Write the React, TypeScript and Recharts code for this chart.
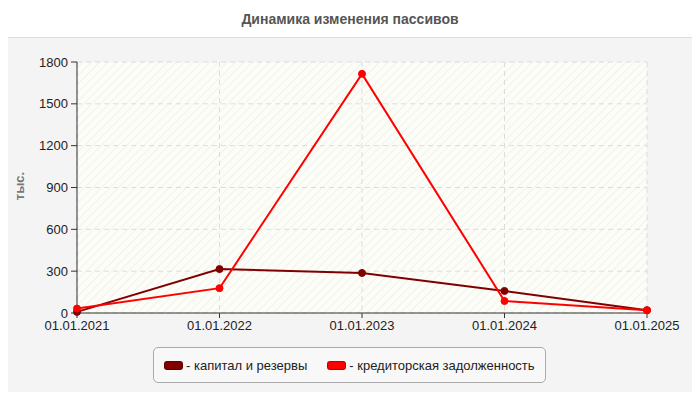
import React from "react";
import { LineChart, Line, XAxis, YAxis, CartesianGrid } from "recharts";

const dates = ["01.01.2021", "01.01.2022", "01.01.2023", "01.01.2024", "01.01.2025"];
const capital = [8, 315, 287, 158, 20];
const payables = [32, 178, 1715, 86, 19];
const yTicks = [0, 300, 600, 900, 1200, 1500, 1800];

const data = dates.map((d, i) => ({ date: d, capital: capital[i], payables: payables[i] }));

const FONT = '"Liberation Sans", Arial, sans-serif';

const LegendItem = ({ color, label }: { color: string; label: string }) => (
  <div style={{ display: "flex", alignItems: "center", marginRight: 20, flexShrink: 0, whiteSpace: "nowrap" }}>
    <div
      style={{
        width: 17,
        height: 7,
        background: color,
        borderRadius: 3,
        border: "1px solid rgba(0,0,0,0.25)",
        marginRight: 3,
      }}
    />
    <span>- {label}</span>
  </div>
);

export default function App() {
  return (
    <div style={{ position: "relative", width: 700, height: 400, background: "#fff", fontFamily: FONT, margin: -8 }}>
      <div
        style={{
          position: "absolute",
          top: 11,
          left: 0,
          width: 700,
          textAlign: "center",
          fontSize: 14,
          fontWeight: "bold",
          color: "#555",
        }}
      >
        Динамика изменения пассивов
      </div>
      <div
        style={{
          position: "absolute",
          top: 37,
          left: 0,
          width: 697,
          height: 357,
          background: "#f4f4f4",
          border: "1px solid #dedede",
          borderRadius: 8,
        }}
      />
      <div style={{ position: "absolute", top: 0, left: 0 }}>
        <LineChart width={700} height={400} data={data} margin={{ top: 62, right: 53, left: 0, bottom: 57 }}>
          <defs>
            <pattern id="hatch" width="6" height="6" patternUnits="userSpaceOnUse" patternTransform="rotate(45)">
              <rect width="6" height="6" fill="#fdfdf8" />
              <line x1="0" y1="0" x2="0" y2="6" stroke="#ededea" strokeWidth="1.5" />
            </pattern>
          </defs>
          <CartesianGrid stroke="#dcdcdc" strokeDasharray="5 4" fill="url(#hatch)" fillOpacity={1} />
          <XAxis
            dataKey="date"
            height={30}
            tick={{ fill: "#222", fontSize: 13, fontFamily: FONT }}
            tickSize={5}
            tickMargin={3}
            axisLine={{ stroke: "#333" }}
            tickLine={{ stroke: "#333" }}
            interval={0}
          />
          <YAxis
            width={77}
            domain={[0, 1800]}
            ticks={yTicks}
            tick={{ fill: "#222", fontSize: 13, fontFamily: FONT }}
            tickSize={6}
            tickMargin={3}
            axisLine={{ stroke: "#333" }}
            tickLine={{ stroke: "#333" }}
          />
          <Line
            dataKey="capital"
            stroke="#800000"
            strokeWidth={2}
            dot={{ r: 3.5, fill: "#800000", stroke: "#800000", strokeWidth: 1 }}
            isAnimationActive={false}
          />
          <Line
            dataKey="payables"
            stroke="#ff0000"
            strokeWidth={2}
            dot={{ r: 3.5, fill: "#ff0000", stroke: "#ff0000", strokeWidth: 1 }}
            isAnimationActive={false}
          />
        </LineChart>
      </div>
      <div
        style={{
          position: "absolute",
          left: 19,
          top: 186,
          transform: "translate(-50%, -50%) rotate(-90deg)",
          fontSize: 13,
          fontWeight: "bold",
          color: "#777",
          whiteSpace: "nowrap",
        }}
      >
        тыс.
      </div>
      <div
        style={{
          position: "absolute",
          left: 153,
          top: 347,
          width: 393,
          height: 36,
          boxSizing: "border-box",
          border: "1px solid #aaa",
          borderRadius: 5,
          background: "#f8f8f8",
          display: "flex",
          alignItems: "center",
          paddingLeft: 10,
          fontSize: 13,
          color: "#222",
        }}
      >
        <LegendItem color="#800000" label="капитал и резервы" />
        <LegendItem color="#ff0000" label="кредиторская задолженность" />
      </div>
    </div>
  );
}
